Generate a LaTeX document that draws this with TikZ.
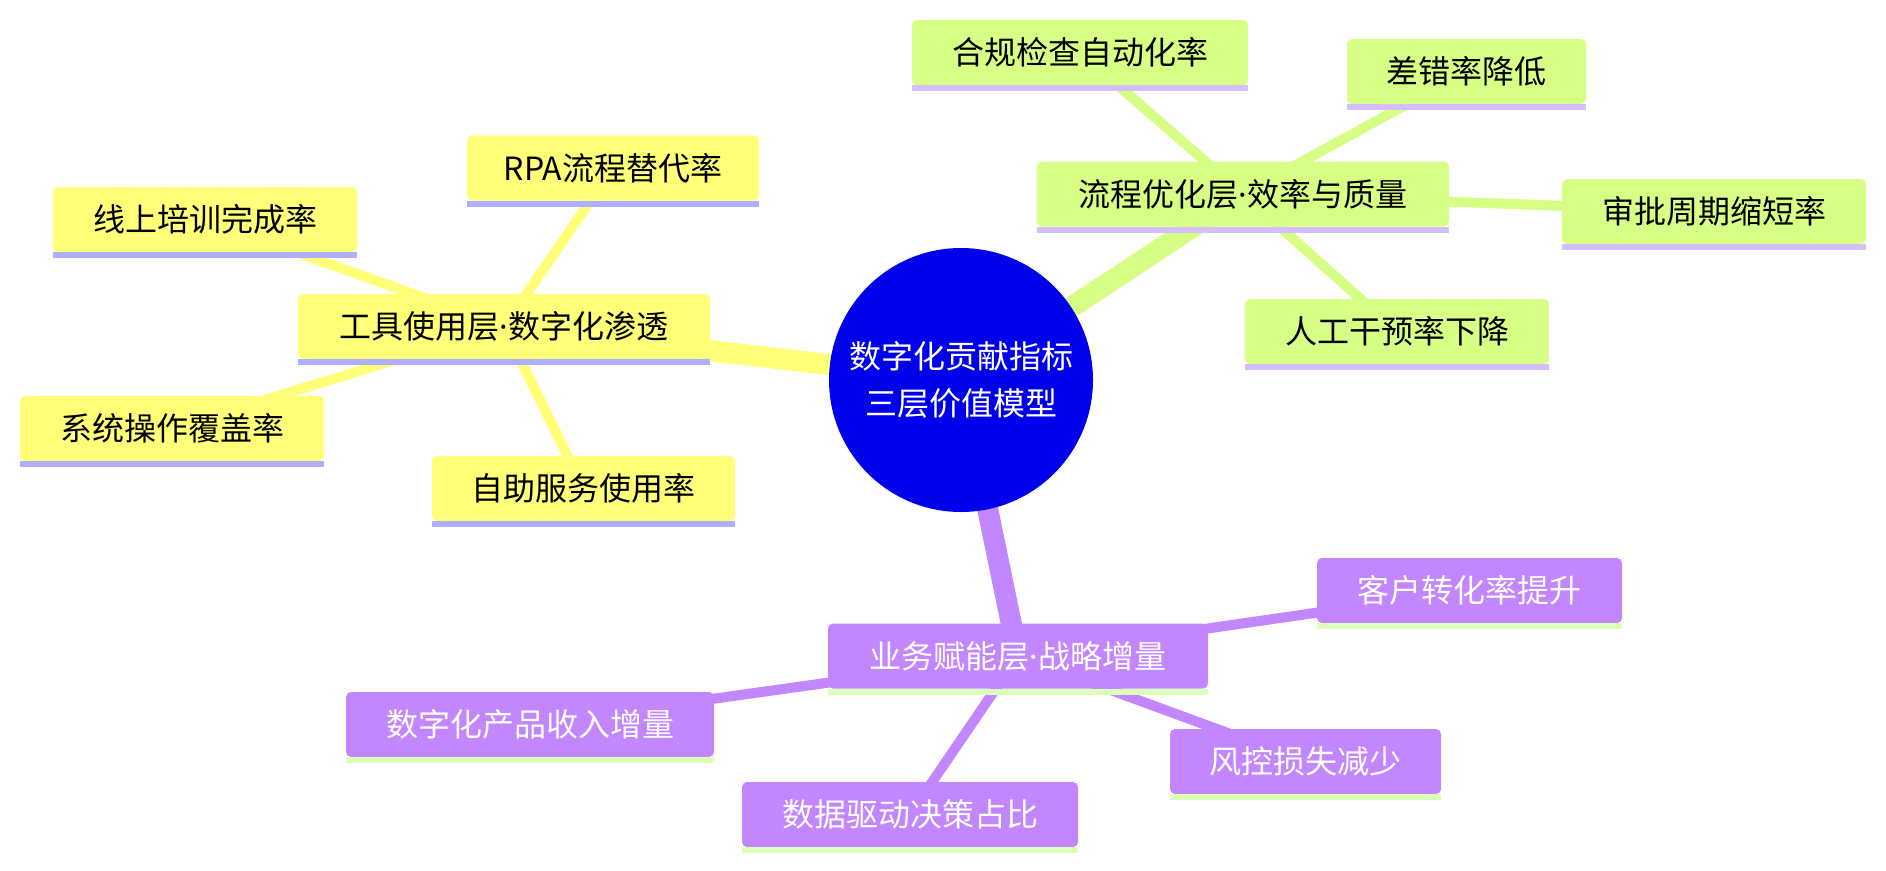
\documentclass[tikz,border=0pt]{standalone}
\usepackage{fontspec}
\setmainfont{Noto Sans CJK SC}
\newfontfamily\latinf{Noto Sans}
\newcommand{\mdot}{{\latinf ·}}
\definecolor{yfill}{HTML}{FFFF78}
\definecolor{yline}{HTML}{AFAFFF}
\definecolor{gfill}{HTML}{D7FF86}
\definecolor{gline}{HTML}{D4BEFF}
\definecolor{pfill}{HTML}{C286FF}
\definecolor{pline}{HTML}{DCFFBA}
\definecolor{rootblue}{HTML}{0000EA}
\pgfdeclarelayer{background}
\pgfsetlayers{background,main}
\tikzset{
  box/.style={rectangle, rounded corners=5pt, minimum height=65pt, inner sep=0pt,
    font=\fontsize{32}{38}\selectfont, anchor=center},
  ybox/.style={box, fill=yfill, text=black},
  gbox/.style={box, fill=gfill, text=black},
  pbox/.style={box, fill=pfill, text=white},
  mainedge/.style={line width=21pt},
  subedge/.style={line width=10pt},
}
\begin{document}
\begin{tikzpicture}[x=1pt,y=-1pt]
\useasboundingbox (0,0) rectangle (1886,870);

\node[circle, fill=rootblue, minimum size=264pt, inner sep=0pt, text=white, align=center,
  font=\fontsize{32}{47}\selectfont] (root) at (961,380) {数字化贡献指标\\三层价值模型};

% yellow branch
\node[ybox, minimum width=412pt] (y0) at (504,326.5) {工具使用层\mdot 数字化渗透};
\node[ybox, minimum width=292pt] (y1) at (613,168) {RPA流程替代率};
\node[ybox, minimum width=304pt] (y2) at (205,219.5) {线上培训完成率};
\node[ybox, minimum width=304pt] (y3) at (172,428.5) {系统操作覆盖率};
\node[ybox, minimum width=303pt] (y4) at (583.5,488.5) {自助服务使用率};

% green branch
\node[gbox, minimum width=412pt] (g0) at (1243,194) {流程优化层\mdot 效率与质量};
\node[gbox, minimum width=336pt] (g1) at (1080,52.5) {合规检查自动化率};
\node[gbox, minimum width=239pt] (g2) at (1466.5,71.5) {差错率降低};
\node[gbox, minimum width=304pt] (g3) at (1714,211.5) {审批周期缩短率};
\node[gbox, minimum width=304pt] (g4) at (1397,331.5) {人工干预率下降};

% purple branch
\node[pbox, minimum width=380pt] (p0) at (1018,656) {业务赋能层\mdot 战略增量};
\node[pbox, minimum width=305pt] (p1) at (1469.5,590.5) {客户转化率提升};
\node[pbox, minimum width=368pt] (p2) at (530,724.5) {数字化产品收入增量};
\node[pbox, minimum width=336pt] (p3) at (910,814.5) {数据驱动决策占比};
\node[pbox, minimum width=271pt] (p4) at (1305.5,761.5) {风控损失减少};

% underlines
\foreach \n/\c in {y0/yline,y1/yline,y2/yline,y3/yline,y4/yline,
                   g0/gline,g1/gline,g2/gline,g3/gline,g4/gline,
                   p0/pline,p1/pline,p2/pline,p3/pline,p4/pline}
  \fill[\c] (\n.south west) rectangle ([yshift=-6pt]\n.south east);

\begin{pgfonlayer}{background}
\draw[yfill, mainedge] (root.center) -- (y0.center);
\draw[gfill, mainedge] (root.center) -- (g0.center);
\draw[pfill, mainedge] (root.center) -- (p0.center);
\foreach \c in {y1,y2,y3,y4} \draw[yfill, subedge] (y0.center) -- (\c.center);
\foreach \c in {g1,g2,g3,g4} \draw[gfill, subedge] (g0.center) -- (\c.center);
\foreach \c in {p1,p2,p3,p4} \draw[pfill, subedge] (p0.center) -- (\c.center);
\end{pgfonlayer}
\end{tikzpicture}
\end{document}
